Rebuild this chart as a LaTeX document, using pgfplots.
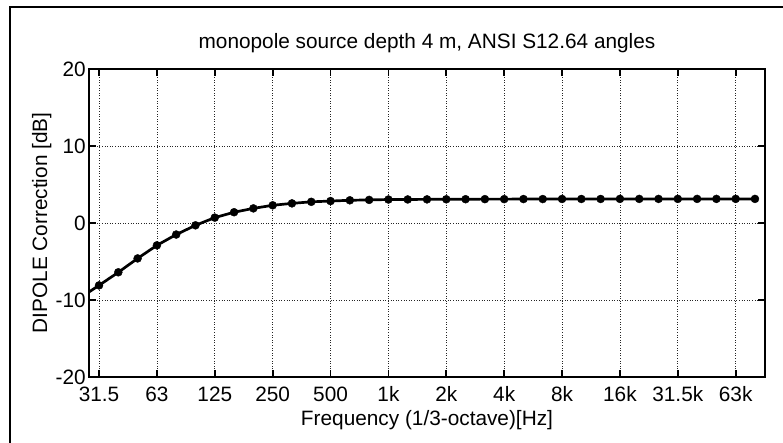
\documentclass[border=0pt]{standalone}
\usepackage{pgfplots}
\pgfplotsset{compat=1.18}
\usepackage{fontspec}
\setmainfont{Liberation Sans}
\pgfplotstableread{
idx val
-1 -9.75
0 -8.1
1 -6.4
2 -4.6
3 -2.9
4 -1.5
5 -0.3
6 0.7
7 1.4
8 1.9
9 2.3
10 2.55
11 2.75
12 2.85
13 2.95
14 3.0
15 3.05
16 3.06
17 3.07
18 3.08
19 3.09
20 3.1
21 3.1
22 3.11
23 3.11
24 3.12
25 3.12
26 3.12
27 3.13
28 3.13
29 3.13
30 3.13
31 3.13
32 3.13
33 3.13
34 3.13
}\dipole
\begin{document}
\begin{tikzpicture}
\useasboundingbox (0bp,0bp) rectangle (783bp,443bp);
\draw[line width=2bp] (10bp,0bp) -- (10bp,436bp) -- (783bp,436bp);
\begin{axis}[
  at={(89bp,66bp)}, anchor=south west,
  scale only axis, width=676bp, height=308bp,
  xmin=-0.52, xmax=34.52, ymin=-20, ymax=20,
  xtick={0,3,...,33},
  xticklabels={31.5,63,125,250,500,1k,2k,4k,8k,16k,31.5k,63k},
  ytick={-20,-10,0,10,20},
  yticklabels={-20,-10,0,10,20},
  tick align=inside, tick pos=both,
  major tick length=7bp,
  every tick/.style={black, line width=1.8bp},
  axis line style={line width=1.8bp},
  grid=major,
  major grid style={black!85, line width=0.7bp, dash pattern=on 0.8bp off 1.8bp},
  tick label style={font=\fontsize{20.8bp}{25bp}\selectfont},
  xticklabel style={anchor=base, yshift=-24bp},
  yticklabel style={anchor=east, inner sep=0pt, xshift=-3bp},
  title={monopole source depth 4 m, ANSI S12.64 angles},
  title style={at={(axis description cs:0.5,1.0487)}, anchor=base, font=\fontsize{20.8bp}{25bp}\selectfont},
  xlabel={Frequency (1/3-octave)[Hz]},
  xlabel style={at={(axis description cs:0.5,-0.159)}, anchor=base, font=\fontsize{20.8bp}{25bp}\selectfont},
  ylabel={DIPOLE Correction [dB]},
  ylabel style={at={(axis description cs:-0.0621,0.5)}, anchor=base, font=\fontsize{20.8bp}{25bp}\selectfont},
]
\addplot[black, line width=2.7bp, no marks] table[x=idx, y=val] {\dipole};
\addplot[black, only marks, mark=*, mark size=4bp, restrict x to domain=-0.1:40] table[x=idx, y=val] {\dipole};
\end{axis}
\end{tikzpicture}
\end{document}
